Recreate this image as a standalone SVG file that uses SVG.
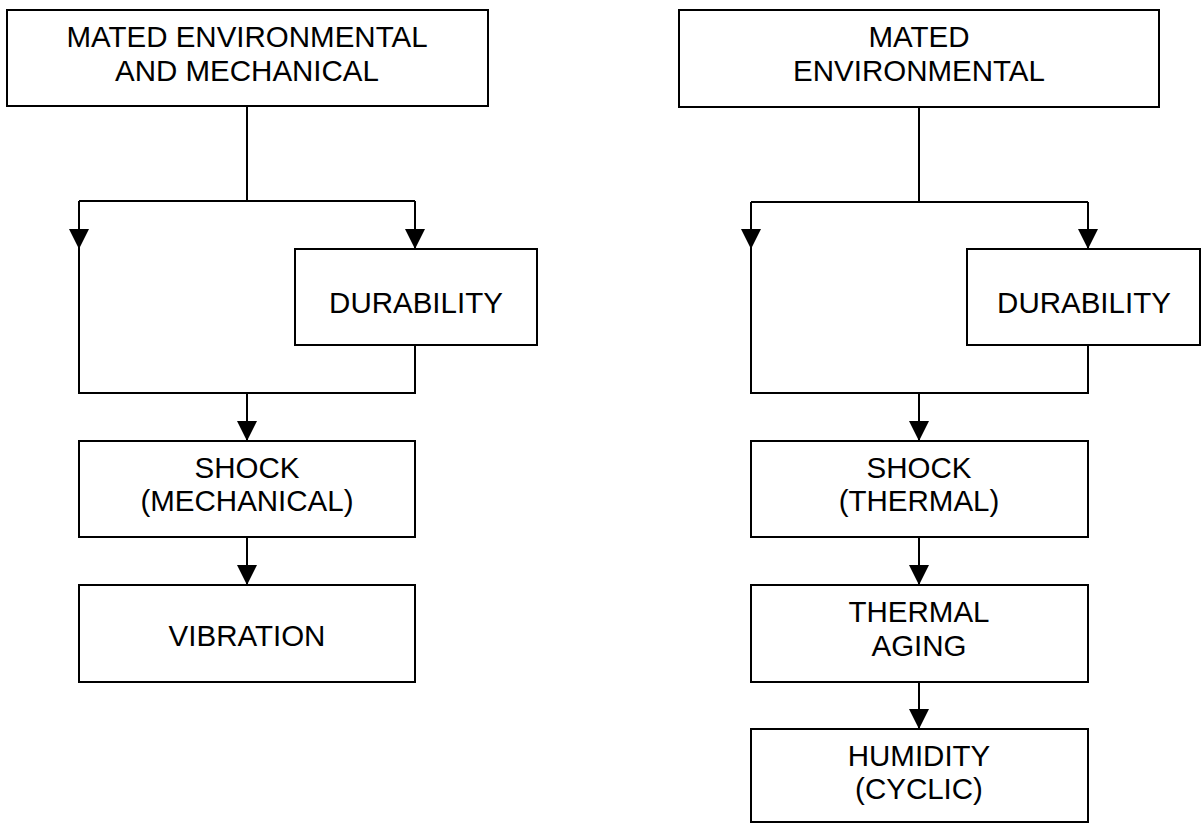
<svg xmlns="http://www.w3.org/2000/svg" width="1201" height="823" viewBox="0 0 1201 823">
<defs>
<style>
.box{fill:#fff;stroke:#000;stroke-width:2}
.ln{fill:none;stroke:#000;stroke-width:2}
text{font-family:"Liberation Sans",Arial,sans-serif;font-size:29.5px;fill:#000;text-anchor:middle}
</style>
<marker id="ah" markerUnits="userSpaceOnUse" markerWidth="20" markerHeight="20" viewBox="0 0 20 20" refX="20" refY="10" orient="auto">
<path d="M0,0 L20,10 L0,20 Z" fill="#000"/>
</marker>
</defs>
<rect width="1201" height="823" fill="#fff"/>
<g id="connectors">
<path class="ln" d="M247,106 V201"/>
<path class="ln" d="M79,201 H415"/>
<path class="ln" d="M79,201 V249" marker-end="url(#ah)"/>
<path class="ln" d="M415,201 V249" marker-end="url(#ah)"/>
<path class="ln" d="M79,249 V393 H415 V345"/>
<path class="ln" d="M247,393 V441" marker-end="url(#ah)"/>
<path class="ln" d="M247,537 V585" marker-end="url(#ah)"/>
<path class="ln" d="M919,107 V202"/>
<path class="ln" d="M751,202 H1088"/>
<path class="ln" d="M751,202 V249" marker-end="url(#ah)"/>
<path class="ln" d="M1088,202 V249" marker-end="url(#ah)"/>
<path class="ln" d="M751,249 V393 H1088 V345"/>
<path class="ln" d="M919,393 V441" marker-end="url(#ah)"/>
<path class="ln" d="M919,537 V585" marker-end="url(#ah)"/>
<path class="ln" d="M919,682 V729" marker-end="url(#ah)"/>
</g>
<g id="n1"><rect class="box" x="7" y="10" width="481" height="96"/><text x="247" y="47">MATED ENVIRONMENTAL</text><text x="247" y="81">AND MECHANICAL</text></g>
<g id="n2"><rect class="box" x="295" y="249" width="242" height="96"/><text x="416" y="313">DURABILITY</text></g>
<g id="n3"><rect class="box" x="79" y="441" width="336" height="96"/><text x="247" y="478">SHOCK</text><text x="247" y="511">(MECHANICAL)</text></g>
<g id="n4"><rect class="box" x="79" y="585" width="336" height="97"/><text x="247" y="646">VIBRATION</text></g>
<g id="n5"><rect class="box" x="679" y="10" width="480" height="97"/><text x="919" y="47">MATED</text><text x="919" y="81">ENVIRONMENTAL</text></g>
<g id="n6"><rect class="box" x="967" y="249" width="233" height="96"/><text x="1084" y="313">DURABILITY</text></g>
<g id="n7"><rect class="box" x="751" y="441" width="337" height="96"/><text x="919" y="478">SHOCK</text><text x="919" y="511">(THERMAL)</text></g>
<g id="n8"><rect class="box" x="751" y="585" width="337" height="97"/><text x="919" y="622">THERMAL</text><text x="919" y="656">AGING</text></g>
<g id="n9"><rect class="box" x="751" y="729" width="337" height="93"/><text x="919" y="766">HUMIDITY</text><text x="919" y="799">(CYCLIC)</text></g>
</svg>
